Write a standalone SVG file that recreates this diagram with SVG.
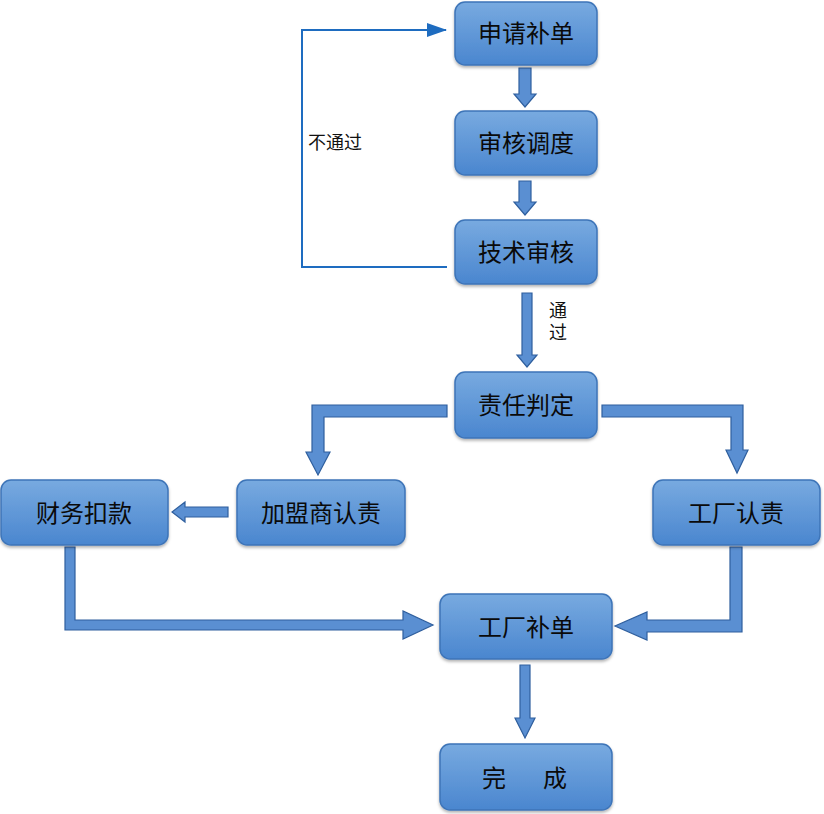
<svg xmlns="http://www.w3.org/2000/svg" width="824" height="814" viewBox="0 0 824 814">
<defs>
<linearGradient id="bg" x1="0" y1="0" x2="0" y2="1">
<stop offset="0" stop-color="#78aae0"/>
<stop offset="1" stop-color="#4a86cf"/>
</linearGradient>
<filter id="sh" x="-10%" y="-10%" width="120%" height="130%">
<feDropShadow dx="0" dy="2" stdDeviation="1.5" flood-color="#000" flood-opacity="0.3"/>
</filter>
<marker id="ah" markerWidth="20" markerHeight="14" refX="19" refY="7" orient="auto" markerUnits="userSpaceOnUse" viewBox="0 0 20 14">
<path d="M0,0 L20,7 L0,14 z" fill="#1e6cc0"/>
</marker>
<style>
.box{fill:url(#bg);stroke:#3e74b8;stroke-width:1.5;filter:url(#sh)}
.t{font-family:"Noto Sans CJK SC","Noto Sans",sans-serif;font-size:24px;font-weight:400;fill:#0a0a0a;text-anchor:middle}
.lbl{font-family:"Noto Sans CJK SC","Noto Sans",sans-serif;font-size:18px;fill:#111}
.ba{fill:#5a8fd2;stroke:#2f5f9e;stroke-width:1.2;stroke-linejoin:miter}
.thin{fill:none;stroke:#1e6cc0;stroke-width:2}
</style>
</defs>
<rect width="824" height="814" fill="#ffffff"/>

<g id="connectors">
<path class="thin" d="M447,267 L302,267 L302,30 L446,30" marker-end="url(#ah)"/>
<path class="ba" d="M519,68 L531,68 L531,94 L536,94 L525,107 L514,94 L519,94 Z"/>
<path class="ba" d="M519,181 L531,181 L531,202 L536,202 L525,215 L514,202 L519,202 Z"/>
<path class="ba" d="M522,293 L532,293 L532,355 L537,355 L527,367 L517,355 L522,355 Z"/>
<path class="ba" d="M447,405 L447,417 L324,417 L324,452 L330,452 L318,475 L306,452 L312,452 L312,405 Z"/>
<path class="ba" d="M602,405 L743,405 L743,450 L748,450 L737,473 L726,450 L731,450 L731,417 L602,417 Z"/>
<path class="ba" d="M228,507 L228,517 L185,517 L185,522 L172,512 L185,502 L185,507 Z"/>
<path class="ba" d="M65,547 L75,547 L75,620 L403,620 L403,611 L433,625 L403,639 L403,630 L65,630 Z"/>
<path class="ba" d="M730,547 L742,547 L742,632 L647,632 L647,640 L615,626 L647,612 L647,620 L730,620 Z"/>
<path class="ba" d="M520,665 L530,665 L530,718 L535,718 L525,738 L515,718 L520,718 Z"/>
<text class="lbl" x="308" y="149">不通过</text>
<text class="lbl" x="558" y="301" writing-mode="vertical-rl" letter-spacing="4">通过</text>
</g>

<g id="n1"><rect class="box" x="455" y="2" width="142" height="63" rx="10"/><text class="t" x="526" y="42">申请补单</text></g>
<g id="n2"><rect class="box" x="455" y="111" width="142" height="64" rx="10"/><text class="t" x="526" y="152">审核调度</text></g>
<g id="n3"><rect class="box" x="455" y="220" width="142" height="64" rx="10"/><text class="t" x="526" y="261">技术审核</text></g>
<g id="n4"><rect class="box" x="455" y="372" width="142" height="66" rx="10"/><text class="t" x="526" y="414">责任判定</text></g>
<g id="n5"><rect class="box" x="237" y="480" width="168" height="65" rx="10"/><text class="t" x="321" y="522">加盟商认责</text></g>
<g id="n6"><rect class="box" x="1" y="480" width="167" height="65" rx="10"/><text class="t" x="84" y="522">财务扣款</text></g>
<g id="n7"><rect class="box" x="653" y="480" width="167" height="65" rx="10"/><text class="t" x="736" y="522">工厂认责</text></g>
<g id="n8"><rect class="box" x="440" y="594" width="172" height="65" rx="10"/><text class="t" x="526" y="636">工厂补单</text></g>
<g id="n9"><rect class="box" x="440" y="744" width="172" height="66" rx="10"/><text class="t" x="494 555" y="787">完成</text></g>
</svg>
